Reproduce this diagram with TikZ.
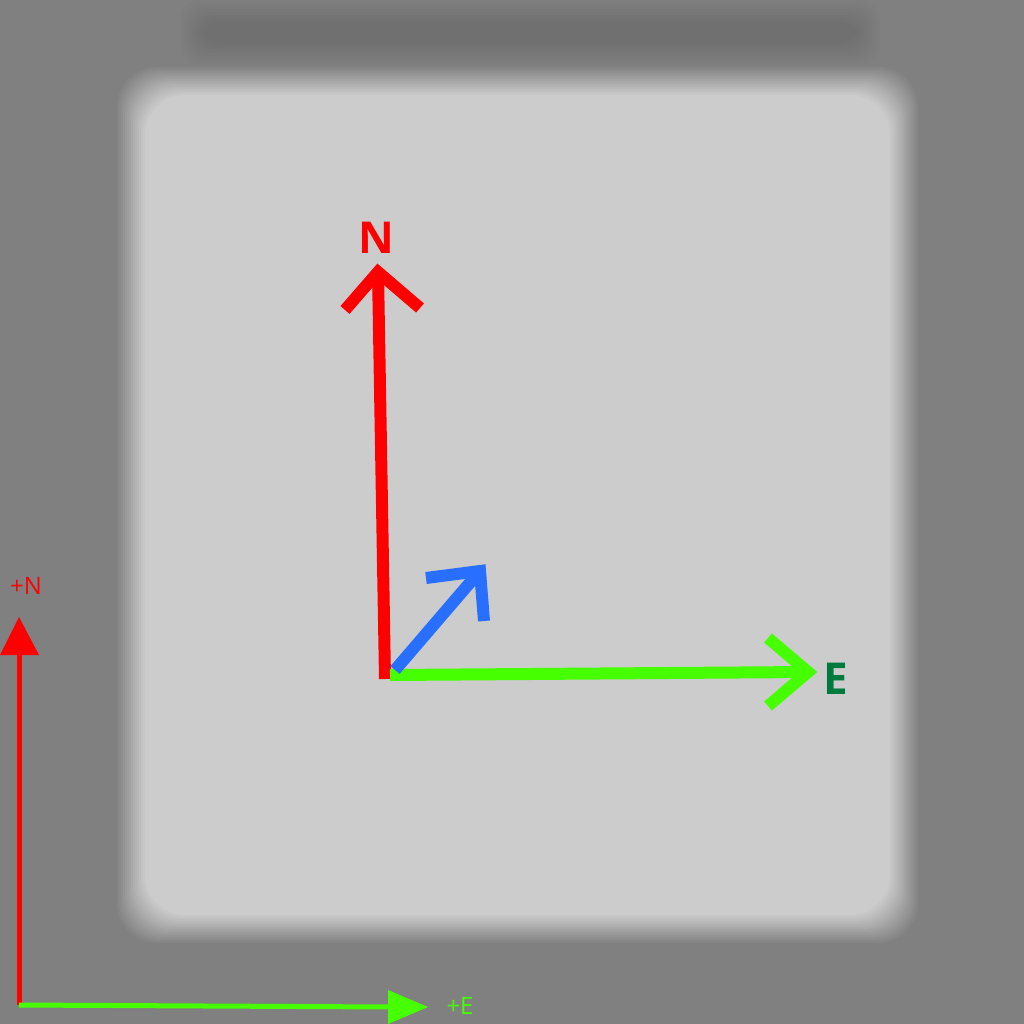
\documentclass[tikz,border=0pt]{standalone}
\usepackage{fontspec}
\setmainfont{Open Sans}
\begin{document}
\begin{tikzpicture}[x=0.01cm,y=-0.01cm,
  px/.style={line width=#1*0.01cm},
  redc/.style={draw={rgb,255:red,255;green,0;blue,0}},
  greenc/.style={draw={rgb,255:red,70;green,255;blue,0}},
  bluec/.style={draw={rgb,255:red,40;green,110;blue,255}},
  bigarrow/.style={px=12, line cap=butt, line join=miter},
  lbl/.style={inner sep=0pt, font=\fontsize{12.5}{14}\selectfont\bfseries}
]
\definecolor{bgc}{RGB}{128,128,128}
\definecolor{fgc}{RGB}{204,204,204}
\definecolor{redf}{RGB}{255,0,0}
\definecolor{greenf}{RGB}{70,255,0}
\definecolor{etext}{RGB}{0,122,61}
\useasboundingbox (0,0) rectangle (1024,1024);
\fill[bgc] (0,0) rectangle (1024,1024);
% faint darker shading at the top
\foreach \i in {0,...,7}{
  \pgfmathsetmacro{\d}{3*\i}
  \fill[black, opacity=0.012, rounded corners=20*0.01cm]
    (180+\d,0+\d) rectangle (880-\d,65-\d);
}
% blurred light panel
\foreach \i in {0,...,15}{
  \pgfmathsetmacro{\p}{\i*100/15}
  \pgfmathsetmacro{\d}{2*\i}
  \fill[fgc!\p!bgc, rounded corners=40*0.01cm]
    (115+\d,65+\d) rectangle (920-\d,945-\d);
}
% small axes
\coordinate (o2) at (19,1005);
\coordinate (ntip) at (19,617);
\coordinate (etip) at (428,1007);
\draw[redc, px=5] (o2) -- (19,650);
\fill[redf] (ntip) -- (39,655) -- (0,655) -- cycle;
\draw[greenc, px=5] (o2) -- (392,1007);
\fill[greenf] (etip) -- (388,1024) -- (388,990) -- cycle;
\node[text=redf, font=\fontsize{6.8}{8}\selectfont, inner sep=0pt] (plusn) at (26,586) {+N};
\node[text=greenf, font=\fontsize{6.8}{8}\selectfont, inner sep=0pt] (pluse) at (460,1006) {+E};
% main axes
\coordinate (o) at (385,678);
\coordinate (nend) at (378,272);
\coordinate (eend) at (808,672);
\coordinate (bstart) at (395,670);
\coordinate (bend) at (480,571);
\draw[redc, bigarrow] (385,679) -- (nend);
\draw[redc, bigarrow] (345,310) -- (nend) -- (420,308);
\draw[greenc, bigarrow] (390,675) -- (eend);
\draw[greenc, bigarrow] (768,638) -- (eend) -- (768,706);
\draw[bluec, bigarrow] (bstart) -- (bend);
\draw[bluec, bigarrow] (426,578) -- (bend) -- (484,621);
\node[lbl, text=redf] (nlab) at (376,238) {N};
\node[lbl, text=etext] (elab) at (836,679) {E};
\end{tikzpicture}
\end{document}
